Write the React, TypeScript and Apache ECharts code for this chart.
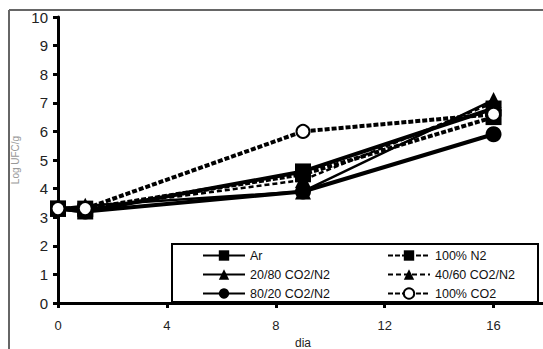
import React, { useEffect, useRef } from "react";
import * as echarts from "echarts";

const days = [0, 1, 9, 16];
const seriesNames = ["Ar", "20/80 CO2/N2", "80/20 CO2/N2", "100% N2", "40/60 CO2/N2", "100% CO2"];
const arValues = [3.3, 3.2, 4.6, 6.8];
const co2n2_20_80 = [3.3, 3.4, 3.9, 7.1];
const co2n2_80_20 = [3.3, 3.2, 3.9, 5.9];
const n2Values = [3.3, 3.3, 4.5, 6.5];
const co2n2_40_60 = [3.3, 3.3, 4.3, 7.0];
const co2Values = [3.3, 3.3, 6.0, 6.6];

const valuesList = [arValues, co2n2_20_80, co2n2_80_20, n2Values, co2n2_40_60, co2Values];
const styles = [
  { type: "solid", width: 4, symbol: "rect" },
  { type: "solid", width: 2.5, symbol: "triangle" },
  { type: "solid", width: 4, symbol: "circle" },
  { type: [5, 2], width: 4, symbol: "rect" },
  { type: [5, 3], width: 2.5, symbol: "triangle" },
  { type: [5, 2], width: 4, symbol: "emptyCircle" },
];

export default function App() {
  const ref = useRef<HTMLDivElement>(null);
  useEffect(() => {
    const chart = echarts.init(ref.current!, undefined, { renderer: "svg" });
    const series = seriesNames.map((name, i) => ({
      name,
      type: "line",
      data: days.map((d, j) => [d, valuesList[i][j]]),
      symbol: styles[i].symbol,
      symbolSize: styles[i].symbol === "emptyCircle" ? 13 : 16,
      lineStyle: { color: "#000", width: styles[i].width, type: styles[i].type },
      itemStyle: { color: "#000", borderColor: "#000", borderWidth: styles[i].symbol === "emptyCircle" ? 3.5 : 0 },
      emphasis: { disabled: true },
    }));
    const legendText = { fontFamily: "Liberation Sans", fontSize: 12.5, color: "#111" };
    chart.setOption({
      animation: false,
      backgroundColor: "#fff",
      textStyle: { fontFamily: "Liberation Sans" },
      grid: { left: 58, top: 17, width: 490, height: 286, outerBoundsMode: "none", containLabel: false },
      xAxis: {
        type: "value",
        min: 0,
        max: 18,
        interval: 4,
        name: "dia",
        nameLocation: "middle",
        nameGap: 30,
        nameTextStyle: { fontSize: 12, color: "#222" },
        axisLine: { lineStyle: { color: "#000", width: 3 } },
        axisTick: { lineStyle: { color: "#000", width: 3 }, length: 5 },
        axisLabel: { fontSize: 13, color: "#222", margin: 16, showMaxLabel: false },
        splitLine: { show: false },
      },
      yAxis: {
        type: "value",
        min: 0,
        max: 10,
        interval: 1,
        name: "Log UFC/g",
        nameLocation: "middle",
        nameGap: 26,
        nameTextStyle: { fontSize: 10, color: "#999" },
        axisLine: { lineStyle: { color: "#000", width: 3 } },
        axisTick: { lineStyle: { color: "#000", width: 3 }, length: 5 },
        axisLabel: { fontSize: 15, color: "#222", margin: 10 },
        splitLine: { show: false },
      },
      legend: [
        {
          data: seriesNames.slice(0, 3),
          orient: "vertical",
          left: 197,
          top: 244,
          itemWidth: 42,
          itemHeight: 13,
          itemGap: 6,
          textStyle: legendText,
        },
        {
          data: seriesNames.slice(3),
          orient: "vertical",
          left: 382,
          top: 244,
          itemWidth: 42,
          itemHeight: 13,
          itemGap: 6,
          textStyle: legendText,
        },
      ],
      graphic: [
        {
          type: "line",
          shape: { x1: 9, y1: 349, x2: 9, y2: 10 },
          style: { stroke: "#666", lineWidth: 2 },
          silent: true,
        },
        {
          type: "line",
          shape: { x1: 9, y1: 10, x2: 560, y2: 10 },
          style: { stroke: "#666", lineWidth: 2 },
          silent: true,
        },
        {
          type: "rect",
          shape: { x: 172, y: 244, width: 366, height: 58 },
          style: { fill: "#fff", stroke: "#000", lineWidth: 2 },
          silent: true,
        },
      ],
      series,
    });
    return () => chart.dispose();
  }, []);
  return <div ref={ref} style={{ width: 543, height: 349, position: "absolute", left: 0, top: 0, overflow: "hidden" }} />;
}
